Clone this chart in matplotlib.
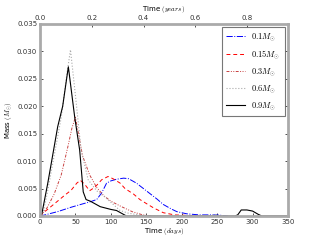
import numpy as np
import matplotlib
matplotlib.use("Agg")
import matplotlib.pyplot as plt

plt.rcParams['mathtext.fontset'] = 'cm'
plt.rcParams['font.size'] = 5

# time (days) and mass (solar masses) for each star
days_01 = [0, 7, 25, 44, 60, 71, 80, 87, 94, 100, 108, 118, 125, 136, 146, 155, 165, 174, 185, 193, 207, 225, 250, 265]
mass_01 = [0, 0.0002, 0.0008, 0.0016, 0.0022, 0.0026, 0.0030, 0.0042, 0.0060, 0.0064, 0.0067, 0.0069, 0.0068, 0.0060, 0.0050, 0.0041, 0.0031, 0.0021, 0.0013, 0.0008, 0.0004, 0.0002, 0.0002, 0]

days_015 = [0, 4, 21, 35, 44, 52, 57, 63, 70, 78, 87, 96, 103, 113, 120, 132, 141, 151, 160, 174, 190, 210, 230]
mass_015 = [0, 0.0005, 0.0023, 0.0038, 0.0047, 0.0060, 0.0065, 0.0058, 0.0046, 0.0053, 0.0066, 0.0072, 0.0068, 0.0060, 0.0050, 0.0040, 0.0030, 0.0022, 0.0015, 0.0006, 0.0002, 0.0001, 0]

days_03 = [0, 5, 10, 20, 30, 40, 45, 50, 55, 60, 70, 80, 90, 100, 115, 130, 145, 160]
mass_03 = [0, 0.0007, 0.0015, 0.0040, 0.0075, 0.0130, 0.0160, 0.0180, 0.0145, 0.0110, 0.0075, 0.0052, 0.0037, 0.0027, 0.0017, 0.0008, 0.0002, 0]

days_06 = [0, 5, 10, 20, 30, 37, 43, 50, 58, 68, 80, 93, 100, 113, 125, 140, 150, 240, 247, 255]
mass_06 = [0, 0.0010, 0.0040, 0.0110, 0.0180, 0.0250, 0.0303, 0.0220, 0.0120, 0.0066, 0.0046, 0.0033, 0.0025, 0.0010, 0.0005, 0.0002, 0, 0, 0.0003, 0]

days_09 = [0, 2, 11, 25, 32, 40, 49, 56, 61, 65, 71, 85, 100, 108, 115, 122, 275, 279, 284, 292, 300, 308, 313, 350]
mass_09 = [0, 0, 0.0060, 0.0163, 0.0200, 0.0272, 0.0180, 0.0120, 0.0044, 0.0030, 0.0027, 0.0017, 0.0012, 0.0010, 0.0005, 0, 0, 0.0002, 0.0011, 0.0011, 0.0009, 0.0003, 0, 0]

fig = plt.figure(figsize=(3.2, 2.4), dpi=100)
ax = fig.add_axes([0.125, 0.1, 0.775, 0.8])

ax.plot(days_01, mass_01, color='b', ls='-.', lw=0.7, label=r'$0.1M_{\odot}$')
ax.plot(days_015, mass_015, color='r', ls='--', lw=0.7, dashes=(4, 3), label=r'$0.15M_{\odot}$')
ax.plot(days_03, mass_03, color='#c84040', lw=0.7, ls=(0, (3, 1.5, 1, 1.5, 1, 1.5)), label=r'$0.3M_{\odot}$')
ax.plot(days_06, mass_06, color='#aaaaaa', ls=':', lw=0.8, label=r'$0.6M_{\odot}$')
ax.plot(days_09, mass_09, color='k', ls='-', lw=0.8, label=r'$0.9M_{\odot}$')

ax.set_xlim(0, 350)
ax.set_ylim(0, 0.035)
ax.set_xticks(np.arange(0, 351, 50))
ax.set_yticks(np.arange(0, 0.0351, 0.005))
ax.yaxis.set_major_formatter(matplotlib.ticker.FormatStrFormatter('%.3f'))
ax.set_xlabel(r'Time $(days)$', labelpad=1)
ax.set_ylabel(r'Mass $(M_{\odot})$', labelpad=2)

for s in ax.spines.values():
    s.set_color('#aaaaaa')
    s.set_linewidth(2)
ax.tick_params(direction='in', length=2, width=0.6, pad=2, colors='#333333', labelcolor='#333333')
ax.tick_params(top=False, right=True)

sec = ax.secondary_xaxis('top', functions=(lambda d: d / 365.25, lambda y: y * 365.25))
sec.set_xticks([0.0, 0.2, 0.4, 0.6, 0.8])
sec.set_xlabel(r'Time $(years)$', labelpad=3)
sec.tick_params(direction='in', length=2, width=0.6, pad=2, colors='#333333', labelcolor='#333333')
sec.spines['top'].set_visible(False)

leg = ax.legend(loc='upper right', fontsize=6, handlelength=2.2, borderpad=0.5,
                labelspacing=0.6, fancybox=False, borderaxespad=0.4)
leg.get_frame().set_edgecolor('#555555')
leg.get_frame().set_linewidth(0.8)

fig.savefig('out.png', dpi=100)
